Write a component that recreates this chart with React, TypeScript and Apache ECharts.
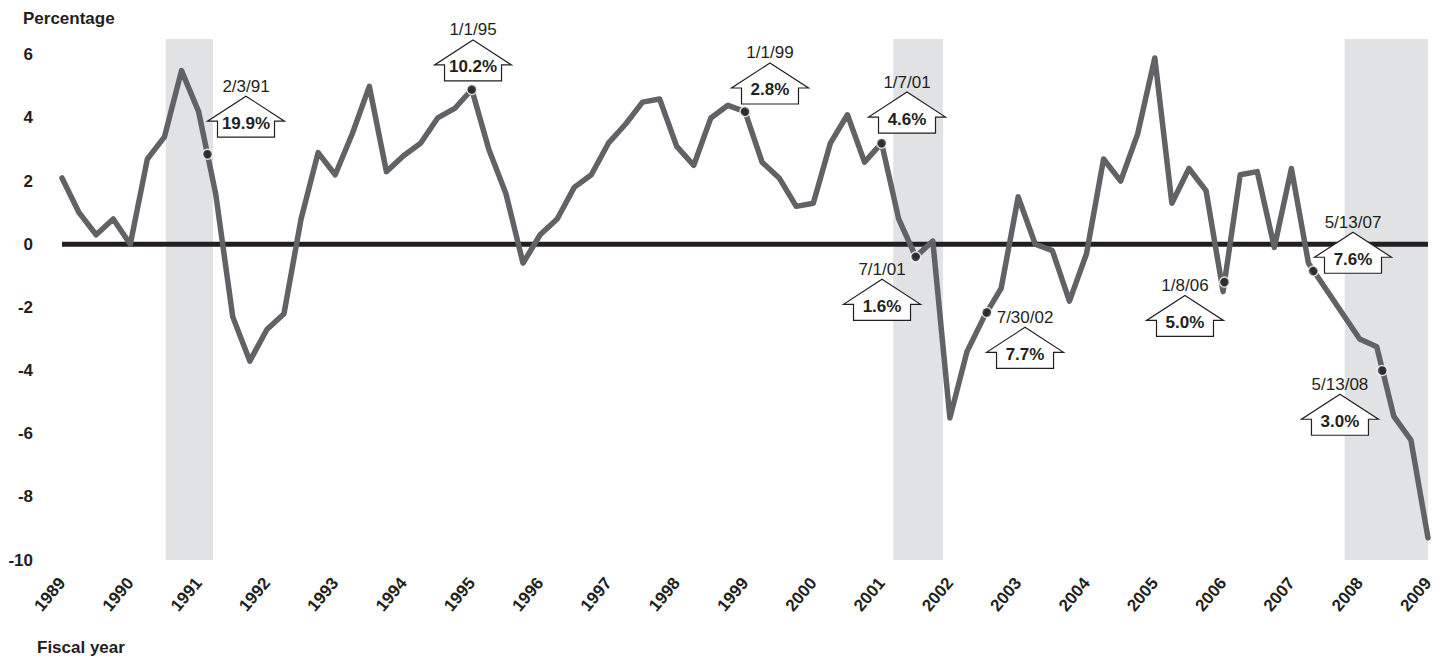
import React, { useEffect, useRef } from "react";
import * as echarts from "echarts";

// Quarterly growth (percentage), first value at START_YEAR, PERIODS_PER_YEAR per year
const START_YEAR = 1989;
const PERIODS_PER_YEAR = 4;
const growth = [
  2.1, 1.0, 0.3, 0.8,
  0.0, 2.7, 3.4, 5.5,
  4.2, 1.6, -2.3, -3.7,
  -2.7, -2.2, 0.8, 2.9,
  2.2, 3.5, 5.0, 2.3,
  2.8, 3.2, 4.0, 4.3,
  4.9, 3.0, 1.6, -0.6,
  0.3, 0.8, 1.8, 2.2,
  3.2, 3.8, 4.5, 4.6,
  3.1, 2.5, 4.0, 4.4,
  4.2, 2.6, 2.1, 1.2,
  1.3, 3.2, 4.1, 2.6,
  3.2, 0.8, -0.4, 0.1,
  -5.5, -3.4, -2.3, -1.4,
  1.5, 0.0, -0.2, -1.8,
  -0.3, 2.7, 2.0, 3.5,
  5.9, 1.3, 2.4, 1.7,
  -1.5, 2.2, 2.3, -0.1,
  2.4, -0.6, -1.4, -2.2,
  -3.0, -3.25, -5.45, -6.2,
  -9.3,
];

// Recession shading (start, end) in fiscal-year units
const recessions: [number, number][] = [
  [1990.52, 1991.21],
  [2001.17, 2001.9],
  [2007.78, 2009.0],
];

// Events: date labels, rate labels, dot on line, arrow apex position
const eventDates = ["2/3/91", "1/1/95", "1/1/99", "1/7/01", "7/1/01", "7/30/02", "1/8/06", "5/13/07", "5/13/08"];
const eventRates = ["19.9%", "10.2%", "2.8%", "4.6%", "1.6%", "7.7%", "5.0%", "7.6%", "3.0%"];
const eventDots: [number, number][] = [
  [1991.13, 2.85],
  [1995.0, 4.9],
  [1999.0, 4.2],
  [2001.0, 3.2],
  [2001.5, -0.4],
  [2002.54, -2.16],
  [2006.02, -1.2],
  [2007.32, -0.85],
  [2008.33, -4.0],
];
const calloutApex: [number, number][] = [
  [1991.694, 4.69],
  [1995.018, 6.47],
  [1999.366, 5.74],
  [2001.372, 4.82],
  [2001.006, -1.11],
  [2003.1, -2.63],
  [2005.442, -1.62],
  [2007.902, 0.38],
  [2007.711, -4.75],
];

const yTicks = [-10, -8, -6, -4, -2, 0, 2, 4, 6];

const FONT = '"Liberation Sans", Arial, Helvetica, sans-serif';
const INK = "#231f20";
const LINE = "#616265";
const SHADE = "#e1e2e4";

export default function App() {
  const ref = useRef<HTMLDivElement>(null);

  useEffect(() => {
    if (!ref.current) return;
    const chart = echarts.init(ref.current, undefined, { renderer: "svg" });

    const lineData = growth.map((v, i) => [START_YEAR + i / PERIODS_PER_YEAR, v]);

    chart.setOption({
      animation: false,
      backgroundColor: "#ffffff",
      grid: { left: 62, right: 19, top: 39, bottom: 100 },
      xAxis: {
        type: "value",
        min: 1989,
        max: 2009,
        interval: 1,
        axisLine: { show: false },
        axisTick: { show: false },
        splitLine: { show: false },
        axisLabel: {
          rotate: 50,
          margin: 20,
          fontFamily: FONT,
          fontWeight: "bold",
          fontSize: 17,
          color: INK,
          formatter: (v: number) => String(v),
        },
      },
      yAxis: {
        type: "value",
        min: -10,
        max: 6.5,
        interval: 2,
        axisLine: { show: false },
        axisTick: { show: false },
        splitLine: { show: false },
        axisLabel: {
          margin: 29,
          fontFamily: FONT,
          fontWeight: "bold",
          fontSize: 17,
          color: INK,
          formatter: (v: number) => (yTicks.indexOf(v) >= 0 ? String(v) : ""),
        },
      },
      series: [
        {
          name: "shade",
          type: "line",
          data: [],
          z: 0,
          silent: true,
          markArea: {
            silent: true,
            itemStyle: { color: SHADE },
            data: recessions.map(([a, b]) => [{ xAxis: a }, { xAxis: b }]),
          },
        },
        {
          name: "zero",
          type: "line",
          data: [
            [1989, 0],
            [2009, 0],
          ],
          z: 1,
          showSymbol: false,
          silent: true,
          lineStyle: { color: INK, width: 5 },
        },
        {
          name: "growth",
          type: "line",
          data: lineData,
          z: 3,
          showSymbol: false,
          silent: true,
          lineStyle: { color: LINE, width: 5.5, join: "round", cap: "round" },
        },
        {
          name: "events",
          type: "scatter",
          data: eventDots,
          z: 4,
          symbolSize: 10,
          silent: true,
          itemStyle: { color: INK, borderColor: "#ffffff", borderWidth: 1.5 },
        },
      ],
    });

    const graphics: any[] = [
      {
        type: "text",
        x: 23,
        y: 18.5,
        style: { text: "Percentage", font: `bold 17px ${FONT}`, fill: INK, align: "left", verticalAlign: "middle" },
      },
      {
        type: "text",
        x: 37,
        y: 647.5,
        style: { text: "Fiscal year", font: `bold 17px ${FONT}`, fill: INK, align: "left", verticalAlign: "middle" },
      },
    ];

    calloutApex.forEach((p, i) => {
      const [ax, ay] = chart.convertToPixel({ gridIndex: 0 }, p) as number[];
      const pts = [
        [ax, ay],
        [ax + 38.5, ay + 25],
        [ax + 28.5, ay + 25],
        [ax + 28.5, ay + 41],
        [ax - 28.5, ay + 41],
        [ax - 28.5, ay + 25],
        [ax - 38.5, ay + 25],
      ];
      graphics.push({
        type: "polygon",
        shape: { points: pts },
        style: { fill: "#ffffff", stroke: INK, lineWidth: 1.2 },
        z: 10,
      });
      graphics.push({
        type: "text",
        x: ax,
        y: ay - 10,
        z: 11,
        style: { text: eventDates[i], font: `17px ${FONT}`, fill: INK, align: "center", verticalAlign: "middle" },
      });
      graphics.push({
        type: "text",
        x: ax,
        y: ay + 27,
        z: 11,
        style: { text: eventRates[i], font: `bold 17px ${FONT}`, fill: INK, align: "center", verticalAlign: "middle" },
      });
    });

    chart.setOption({ graphic: graphics });

    return () => chart.dispose();
  }, []);

  return (
    <div
      ref={ref}
      style={{ position: "fixed", left: 0, top: 0, width: 1447, height: 660, background: "#fff" }}
    />
  );
}
